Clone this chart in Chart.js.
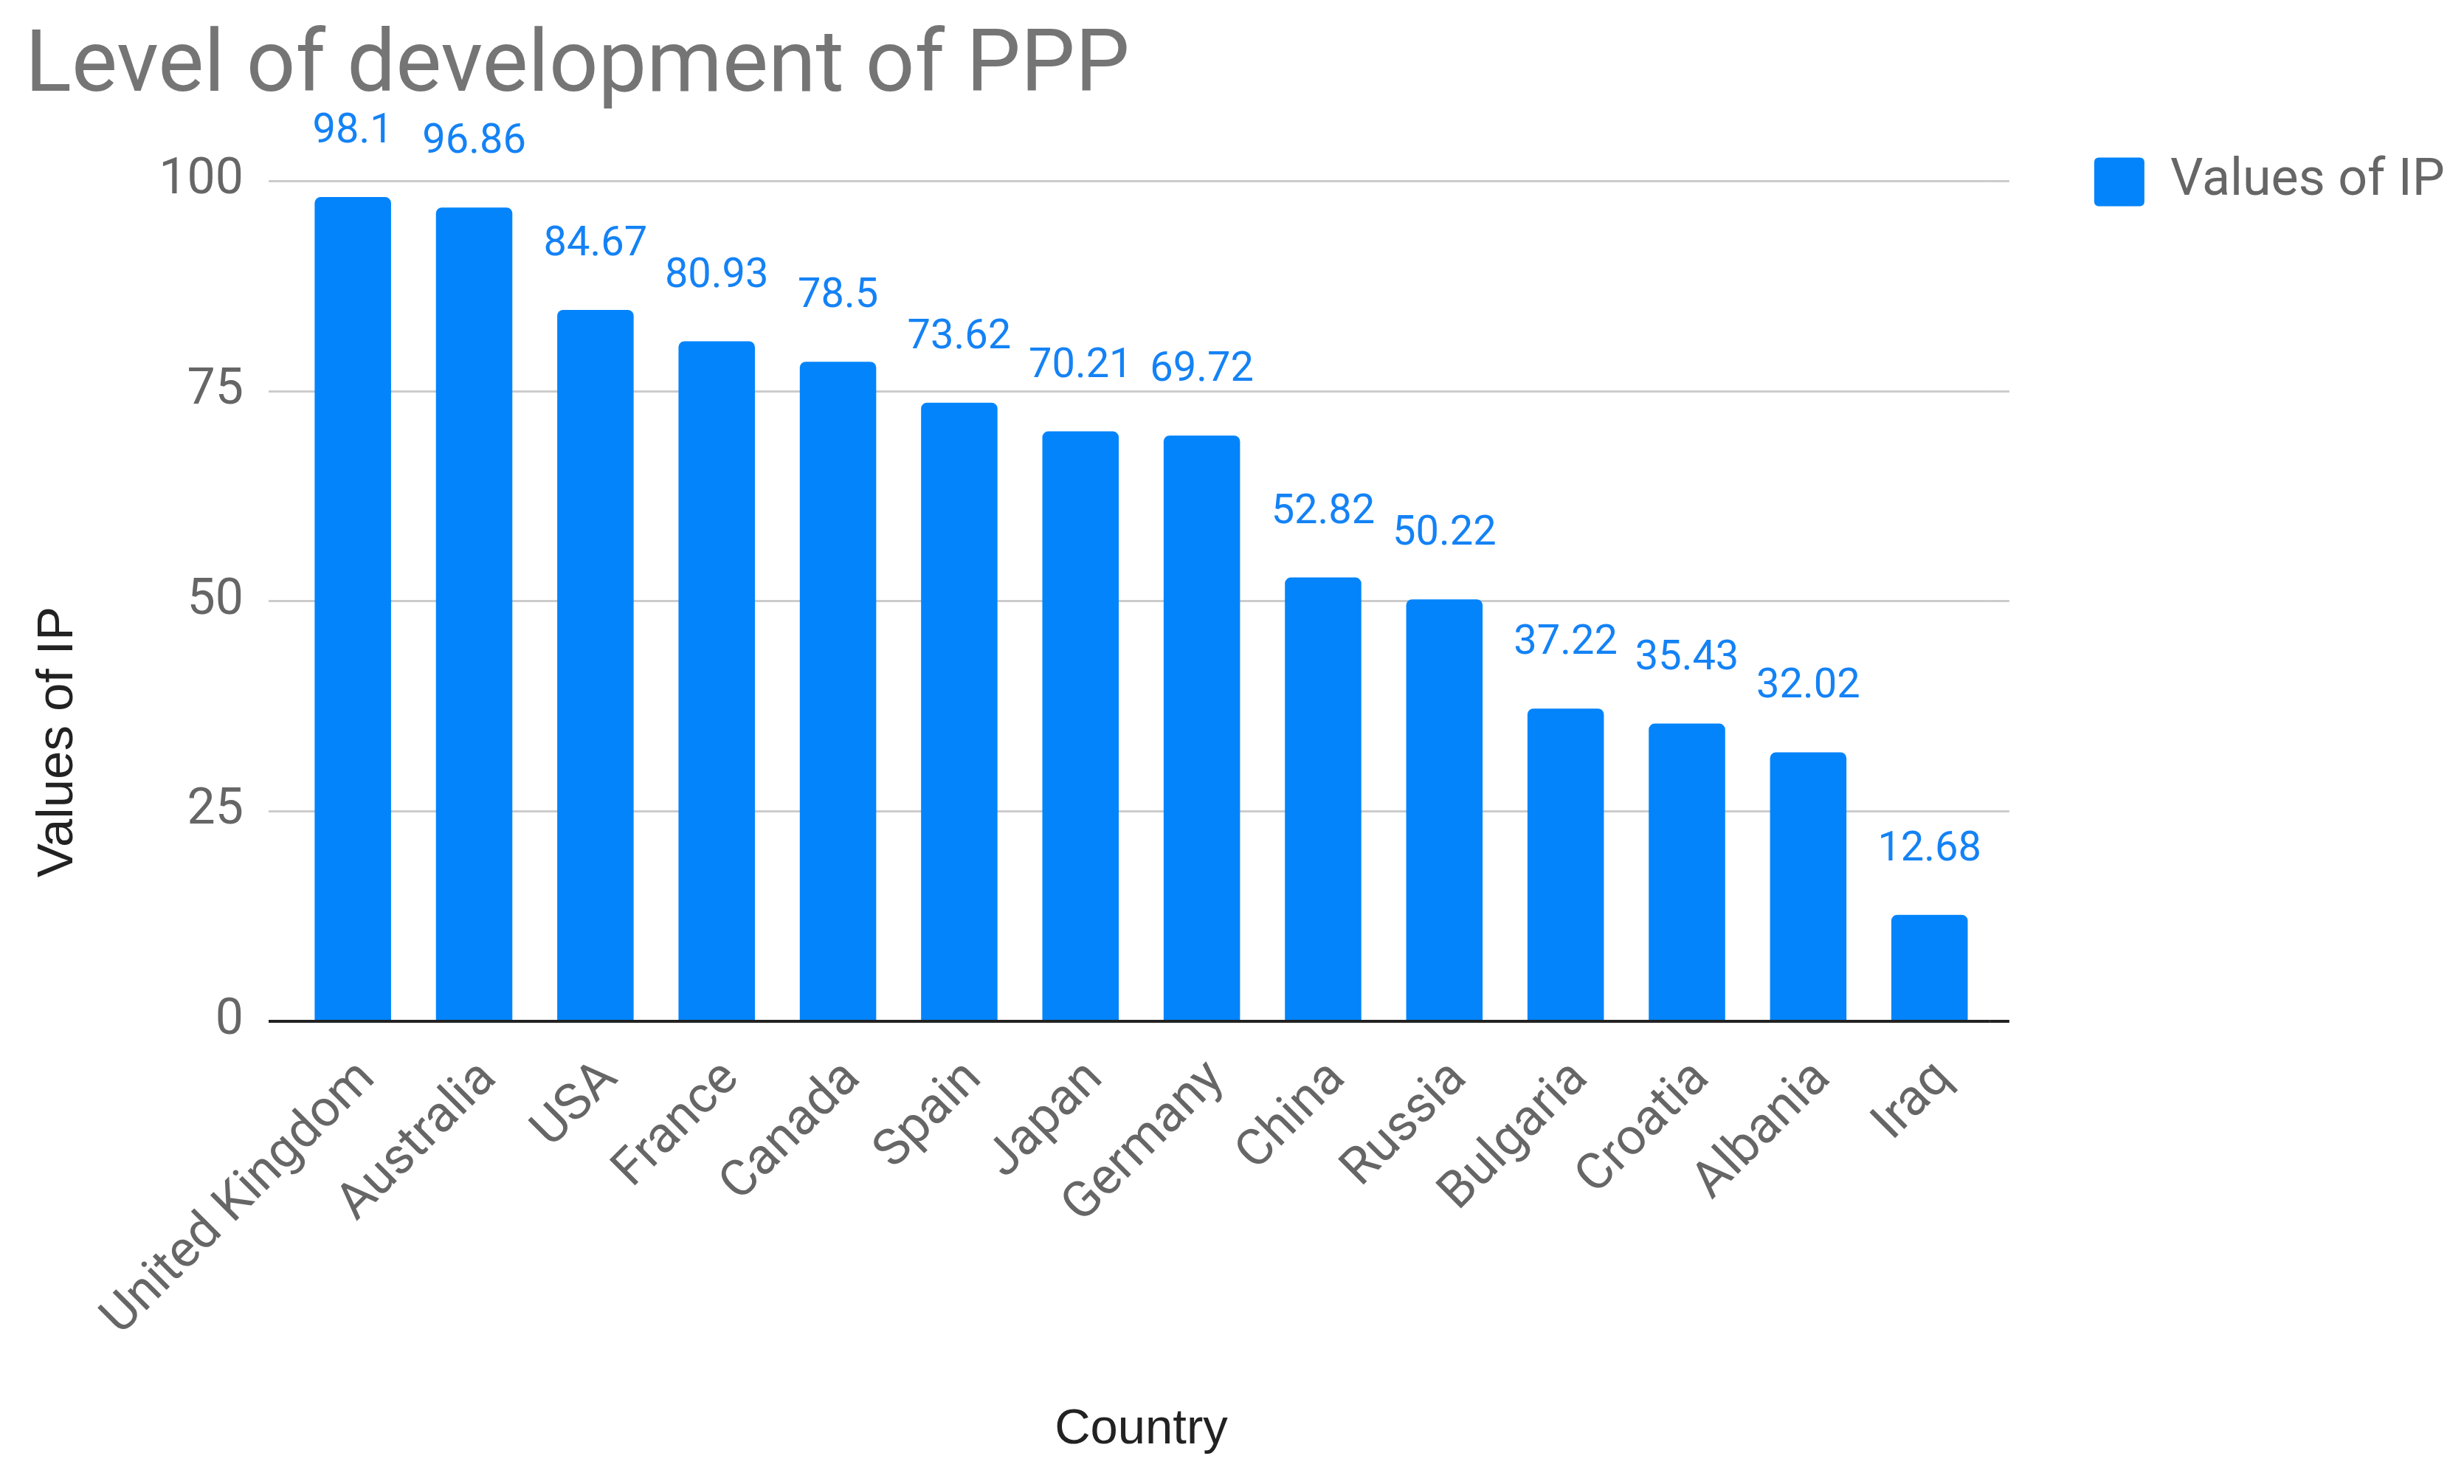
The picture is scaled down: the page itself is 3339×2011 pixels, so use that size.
<!DOCTYPE html>
<html>
<head>
<meta charset="utf-8">
<script src="https://cdn.jsdelivr.net/npm/chart.js@4.4.1/dist/chart.umd.min.js"></script>
<style>
  html, body { margin: 0; padding: 0; background: #fff; }
  #wrap { width: 3339px; height: 2011px; position: relative; }
</style>
</head>
<body>
<div id="wrap"><canvas id="bar-chart"></canvas></div>
<script>
let countries = ["United Kingdom", "Australia", "USA", "France", "Canada", "Spain", "Japan", "Germany", "China", "Russia", "Bulgaria", "Croatia", "Albania", "Iraq"];
let valuesIP = [98.1, 96.86, 84.67, 80.93, 78.5, 73.62, 70.21, 69.72, 52.82, 50.22, 37.22, 35.43, 32.02, 12.68];
let yTicks = [0, 25, 50, 75, 100];

let barColor = "#0384fb";

// value labels above the bars
let valueLabels = {
    id: 'valueLabels',
    afterDatasetsDraw(chart) {
        let ctx = chart.ctx;
        let meta = chart.getDatasetMeta(0);
        ctx.save();
        ctx.font = "56px Roboto";
        ctx.fillStyle = "#1482f5";
        ctx.textAlign = "center";
        ctx.textBaseline = "middle";
        meta.data.forEach((bar, i) => {
            ctx.fillText(String(valuesIP[i]), bar.x, bar.y - 88);
        });
        ctx.restore();
    }
};

// legend level with the 100 line, y title centred on the whole canvas
let layoutTweaks = {
    id: 'layoutTweaks',
    afterLayout(chart) {
        chart.legend.top = chart.chartArea.top - 44;
        chart.scales.y.top = 0;
        chart.scales.y.bottom = chart.height;
    }
};

new Chart(document.getElementById("bar-chart"), {
    type: 'bar',
    data: {
        labels: countries,
        datasets: [{
            label: "Values of IP",
            data: valuesIP,
            backgroundColor: barColor,
            borderRadius: 8,
            borderSkipped: 'start',
            barPercentage: 0.63,
            categoryPercentage: 1
        }]
    },
    options: {
        responsive: true,
        maintainAspectRatio: false,
        animation: false,
        layout: { padding: { left: 34, right: 16, top: 0, bottom: 29 } },
        plugins: {
            title: {
                display: true,
                text: 'Level of development of PPP',
                align: 'start',
                color: '#757575',
                font: { family: 'Roboto', size: 117, weight: 'normal' },
                padding: { top: 24, bottom: 81 }
            },
            legend: {
                position: 'right',
                align: 'start',
                labels: {
                    color: '#666666',
                    font: { family: 'Roboto', size: 70 },
                    boxWidth: 68,
                    boxHeight: 66,
                    useBorderRadius: true,
                    borderRadius: 6,
                    padding: 10
                }
            },
            tooltip: { enabled: false }
        },
        scales: {
            x: {
                grid: { display: false },
                border: { display: false },
                ticks: {
                    color: '#666666',
                    font: { family: 'Roboto', size: 69 },
                    minRotation: 45,
                    maxRotation: 45,
                    autoSkip: false,
                    labelOffset: 20,
                    padding: 30
                },
                title: {
                    display: true,
                    text: 'Country',
                    color: '#222222',
                    font: { family: 'Liberation Sans', size: 67 }
                },
                afterFit(scale) { scale.height = 598; }
            },
            y: {
                min: 0,
                max: 100,
                afterBuildTicks(scale) { scale.ticks = yTicks.map(v => ({ value: v })); },
                grid: {
                    color: c => c.tick && c.tick.value === 0 ? '#222222' : '#cccccc',
                    lineWidth: c => c.tick && c.tick.value === 0 ? 4 : 3,
                    tickLength: 32
                },
                border: { display: false },
                ticks: {
                    color: '#666666',
                    font: { family: 'Roboto', size: 68 },
                    padding: 34
                },
                title: {
                    display: true,
                    text: 'Values of IP',
                    color: '#222222',
                    font: { family: 'Liberation Sans', size: 69 }
                },
                afterFit(scale) { scale.width = 362; }
            },
            y2: {
                position: 'right',
                min: 0,
                max: 100,
                afterBuildTicks(scale) { scale.ticks = yTicks.map(v => ({ value: v })); },
                grid: {
                    drawOnChartArea: false,
                    color: c => c.tick && c.tick.value === 0 ? '#222222' : '#cccccc',
                    lineWidth: c => c.tick && c.tick.value === 0 ? 4 : 3,
                    tickLength: 26
                },
                border: { display: false },
                ticks: { display: false },
                afterFit(scale) { scale.width = 131; }
            }
        }
    },
    plugins: [valueLabels, layoutTweaks]
});
</script>
</body>
</html>
